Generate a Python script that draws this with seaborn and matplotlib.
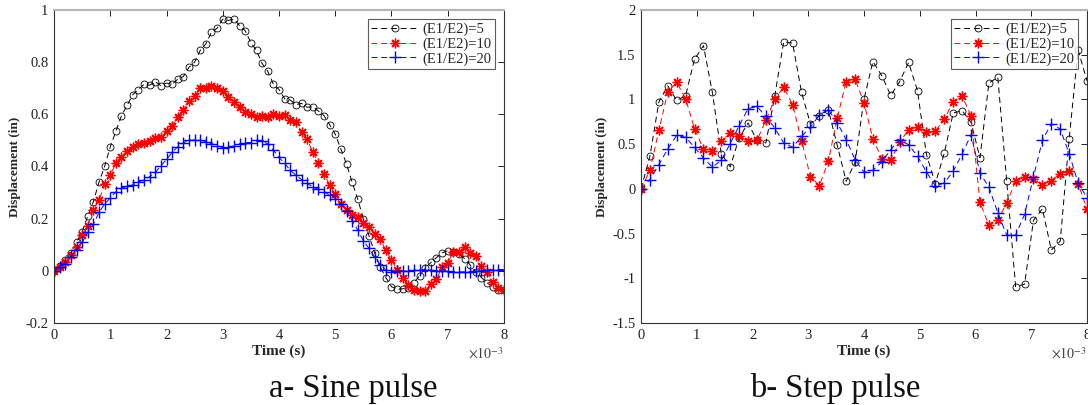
import numpy as np
import pandas as pd
import matplotlib
matplotlib.use("Agg")
import matplotlib.pyplot as plt
import seaborn as sns

# ---------------- data ----------------
t_sine = [round(0.1 * i, 1) for i in range(81)]  # time, x10^-3 s
sine_e5 = [0, 0.02, 0.04, 0.07, 0.11, 0.15, 0.21, 0.265, 0.34, 0.40,
           0.475, 0.535, 0.595, 0.635, 0.675, 0.695, 0.715, 0.712, 0.725, 0.71,
           0.72, 0.715, 0.735, 0.745, 0.78, 0.80, 0.845, 0.87, 0.915, 0.93,
           0.965, 0.96, 0.965, 0.94, 0.92, 0.875, 0.845, 0.795, 0.765, 0.716,
           0.695, 0.66, 0.655, 0.637, 0.642, 0.627, 0.629, 0.613, 0.595, 0.56,
           0.524, 0.467, 0.41, 0.34, 0.274, 0.20, 0.134, 0.07, 0.015, -0.026,
           -0.061, -0.07, -0.069, -0.064, -0.045, -0.019, 0.011, 0.032, 0.051, 0.069,
           0.077, 0.073, 0.064, 0.047, 0.022, -0.004, -0.026, -0.046, -0.061, -0.072,
           -0.074]
sine_e10 = [0, 0.015, 0.035, 0.06, 0.092, 0.137, 0.173, 0.233, 0.271, 0.331,
            0.367, 0.412, 0.437, 0.46, 0.476, 0.485, 0.491, 0.497, 0.508, 0.514,
            0.537, 0.555, 0.59, 0.616, 0.652, 0.671, 0.70, 0.70, 0.71, 0.70,
            0.69, 0.667, 0.648, 0.627, 0.61, 0.60, 0.588, 0.595, 0.588, 0.60,
            0.593, 0.598, 0.58, 0.569, 0.533, 0.504, 0.456, 0.415, 0.371, 0.329,
            0.293, 0.258, 0.233, 0.214, 0.205, 0.182, 0.169, 0.143, 0.121, 0.079,
            0.041, 0.005, -0.026, -0.055, -0.074, -0.078, -0.078, -0.049, -0.033, 0.015,
            0.031, 0.073, 0.073, 0.092, 0.067, 0.058, 0.019, -0.006, -0.042, -0.064,
            -0.074]
sine_e20 = [0, 0.015, 0.028, 0.054, 0.08, 0.109, 0.147, 0.179, 0.224, 0.256,
            0.28, 0.303, 0.316, 0.325, 0.329, 0.341, 0.348, 0.361, 0.377, 0.403,
            0.427, 0.454, 0.476, 0.491, 0.501, 0.501, 0.501, 0.495, 0.488, 0.48,
            0.472, 0.473, 0.48, 0.486, 0.492, 0.492, 0.501, 0.499, 0.486, 0.463,
            0.435, 0.412, 0.386, 0.367, 0.35, 0.335, 0.322, 0.312, 0.303, 0.29,
            0.277, 0.256, 0.23, 0.192, 0.156, 0.115, 0.086, 0.054, 0.022, 0.003,
            -0.004, -0.002, -0.001, 0.0, 0.002, 0.003, 0.003, 0.002, 0.001, -0.001,
            -0.002, -0.003, -0.004, -0.004, -0.003, -0.002, 0.0, 0.002, 0.004, 0.005,
            0.005]

t_step = [round(0.16 * i, 2) for i in range(51)]  # time, x10^-3 s
step_e5 = [0, 0.364, 0.97, 1.152, 0.989, 1.041, 1.45, 1.602, 1.078, 0.394,
           0.245, 0.569, 0.736, 0.543, 0.513, 1.041, 1.647, 1.628, 1.078, 0.725,
           0.818, 0.885, 0.487, 0.085, 0.297, 1.004, 1.424, 1.264, 1.045, 1.2,
           1.413, 1.097, 0.383, 0.059, 0.401, 0.848, 0.874, 0.743, 0.349, 1.182,
           1.249, 0.085, -1.093, -1.067, -0.353, -0.223, -0.684, -0.584, 0.558, 1.554,
           1.208]
step_e10 = [0, 0.208, 0.654, 1.082, 1.193, 1.007, 0.673, 0.446, 0.428, 0.532,
            0.625, 0.587, 0.532, 0.543, 0.766, 1.007, 1.134, 0.941, 0.539, 0.134,
            0.037, 0.309, 0.792, 1.2, 1.23, 0.959, 0.558, 0.338, 0.327, 0.52,
            0.662, 0.691, 0.636, 0.643, 0.784, 0.97, 1.033, 0.818, -0.149, -0.409,
            -0.349, -0.156, 0.085, 0.134, 0.115, 0.041, 0.093, 0.171, 0.197, 0.059,
            -0.223]
step_e20 = [0, 0.104, 0.271, 0.446, 0.599, 0.576, 0.465, 0.346, 0.242, 0.32,
            0.506, 0.706, 0.896, 0.922, 0.81, 0.68, 0.513, 0.465, 0.587, 0.688,
            0.829, 0.885, 0.74, 0.55, 0.327, 0.186, 0.208, 0.301, 0.439, 0.55,
            0.494, 0.364, 0.19, 0.03, 0.067, 0.197, 0.39, 0.606, 0.178, 0.019,
            -0.268, -0.517, -0.517, -0.286, 0.134, 0.543, 0.729, 0.669, 0.394, 0.067,
            -0.1]

labels = ["(E1/E2)=5", "(E1/E2)=10", "(E1/E2)=20"]
captions = ["a- Sine pulse", "b- Step pulse"]
sine_yticks = [-0.2, 0, 0.2, 0.4, 0.6, 0.8, 1]
step_yticks = [-1.5, -1, -0.5, 0, 0.5, 1, 1.5, 2]
xticks = [0, 1, 2, 3, 4, 5, 6, 7, 8]

# ---------------- style ----------------
sns.set_theme(style="white")
plt.rcParams["font.family"] = ["Liberation Serif", "DejaVu Serif"]
plt.rcParams["mathtext.fontset"] = "stix"

fig = plt.figure(figsize=(10.88, 4.05), dpi=100)
axL = fig.add_axes([54 / 1088, 82 / 405, 450 / 1088, 313 / 405])
axR = fig.add_axes([641 / 1088, 82 / 405, 446 / 1088, 313 / 405])

styles = [
    dict(color="black", marker="o", markersize=5, markerfacecolor="none",
         markeredgecolor="black", markeredgewidth=0.6),
    dict(color="red", marker=(8, 2, 0), markersize=7, markerfacecolor="red",
         markeredgecolor="red", markeredgewidth=1.0),
    dict(color="blue", marker="+", markersize=8, markeredgecolor="blue",
         markeredgewidth=1.0),
]


def draw(ax, t, series, yticks, ylim):
    for ys, lab, st in zip(series, labels, styles):
        df = pd.DataFrame({"t": t, "d": ys})
        sns.lineplot(data=df, x="t", y="d", ax=ax, label=lab,
                     linestyle=(0, (6, 4)), linewidth=0.7, **st)
    ax.set_xlim(0, 8)
    ax.set_ylim(*ylim)
    ax.set_xticks(xticks)
    ax.set_xticklabels([str(v) for v in xticks])
    ax.set_yticks(yticks)
    ax.set_yticklabels([f"{v:g}" for v in yticks])
    ax.tick_params(direction="in", length=4, width=0.7, top=True, right=True,
                   labelsize=10.5, colors="#222222", pad=4)
    for side in ["left", "right", "bottom"]:
        ax.spines[side].set_color("#333333")
        ax.spines[side].set_linewidth(0.8)
    ax.spines["top"].set_color("#b5b5b5")
    ax.spines["top"].set_linewidth(1.5)
    ax.set_xlabel("Time (s)", fontsize=11, fontweight="bold", labelpad=2)
    ax.set_ylabel("Displacement (in)", fontsize=9.5, fontweight="bold", labelpad=3)
    leg = ax.legend(loc="upper right", fontsize=10.5, frameon=True, fancybox=False,
                    borderpad=0.25, labelspacing=0.1, handlelength=3.2,
                    handletextpad=0.3, borderaxespad=0.6)
    leg.get_frame().set_edgecolor("#333333")
    leg.get_frame().set_linewidth(0.8)
    ax.text(1.0, -0.075, r"$\times10^{-3}$", transform=ax.transAxes,
            ha="right", va="top", fontsize=10, color="#444444")


draw(axL, t_sine, [sine_e5, sine_e10, sine_e20], sine_yticks, (-0.2, 1))
draw(axR, t_step, [step_e5, step_e10, step_e20], step_yticks, (-1.5, 2))

fig.text(353 / 1088, 0.5 / 405, captions[0], ha="center", va="bottom",
         fontsize=23.5, color="#111111")
fig.text(835 / 1088, 0.5 / 405, captions[1], ha="center", va="bottom",
         fontsize=23.5, color="#111111")

fig.savefig("out.png", dpi=100)
